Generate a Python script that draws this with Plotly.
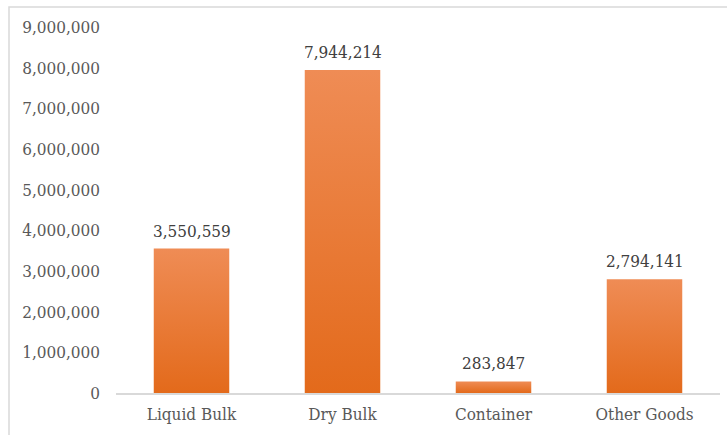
import plotly.graph_objects as go

categories = ["Liquid Bulk", "Dry Bulk", "Container", "Other Goods"]
values = [3550559, 7944214, 283847, 2794141]
y_ticks = [0, 1000000, 2000000, 3000000, 4000000, 5000000, 6000000, 7000000, 8000000, 9000000]

FONT = "DejaVu Serif Condensed, Liberation Serif"
half = 0.25

fig = go.Figure()
for i, v in enumerate(values):
    fig.add_trace(go.Scatter(
        x=[i - half, i + half, i + half, i - half, i - half],
        y=[0, 0, v, v, 0],
        mode="lines", line=dict(width=0), fill="toself",
        fillgradient=dict(type="vertical",
                          colorscale=[[0, "#E36A1B"], [1, "#EF8C55"]]),
        hoverinfo="skip", showlegend=False,
    ))

for i, v in enumerate(values):
    fig.add_annotation(x=i, y=v, text=f"{v:,}", showarrow=False,
                       yanchor="bottom", yshift=6,
                       font=dict(family=FONT, size=17, color="#404040"))

fig.update_layout(
    width=727, height=435,
    margin=dict(l=116, r=7, t=27, b=42),
    paper_bgcolor="white", plot_bgcolor="white",
    font=dict(family=FONT, size=17, color="#595959"),
    xaxis=dict(range=[-0.5, 3.5], tickvals=list(range(len(categories))),
               ticktext=categories, showgrid=False, zeroline=False,
               showline=True, linecolor="#D9D9D9", linewidth=1.5,
               ticks="", ticklabelstandoff=5, fixedrange=True),
    yaxis=dict(range=[0, 9000000], tickvals=y_ticks,
               ticktext=[f"{t:,}" for t in y_ticks], showgrid=False,
               zeroline=False, showline=False, ticks="",
               ticklabelstandoff=15),
    shapes=[dict(type="rect", xref="paper", yref="paper",
                 x0=(9 - 116) / 604, x1=(730 - 116) / 604,
                 y0=(393 - 440) / 366, y1=(393 - 7) / 366,
                 line=dict(color="#D9D9D9", width=1.5), layer="below")],
)

fig.write_html("out.html")
